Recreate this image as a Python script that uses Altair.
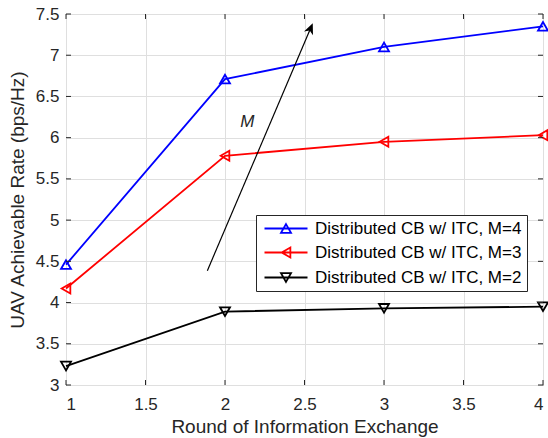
import altair as alt
import pandas as pd

# ---------------- data ----------------
rounds = [1, 2, 3, 4]
series_names = [
    "Distributed CB w/ ITC, M=4",
    "Distributed CB w/ ITC, M=3",
    "Distributed CB w/ ITC, M=2",
]
rate_m4 = [4.46, 6.71, 7.10, 7.35]
rate_m3 = [4.17, 5.78, 5.95, 6.03]
rate_m2 = [3.23, 3.89, 3.93, 3.95]
series_colors = ["#0000ff", "#ff0000", "#000000"]
marker_shapes = ["triangle-up", "triangle-left", "triangle-down"]

x_ticks = [1, 1.5, 2, 2.5, 3, 3.5, 4]
y_ticks = [3, 3.5, 4, 4.5, 5, 5.5, 6, 6.5, 7, 7.5]

# annotation arrow (data units) and its label
arrow_x = [1.889, 2.537]
arrow_y = [4.387, 7.32]
label_x = [2.14]
label_y = [6.195]
label_text = ["M"]

# legend symbols: line with marker (custom paths)
legend_paths = [
    "M-1,0L7.6,0M3.3,-0.87L4.3,0.87L2.3,0.87Z",
    "M-1,0L7.6,0M2.43,0L4.17,-1L4.17,1Z",
    "M-1,0L7.6,0M3.3,0.87L4.3,-0.87L2.3,-0.87Z",
]

W, H = 477, 371
FONT = "Liberation Sans"
TXT = "#262626"

df = pd.DataFrame({
    "round": rounds * 3,
    "rate": rate_m4 + rate_m3 + rate_m2,
    "series": [n for n in series_names for _ in rounds],
})
xt = pd.DataFrame({"round": x_ticks})
yt = pd.DataFrame({"rate": y_ticks})
arrow_df = pd.DataFrame({"round": arrow_x, "rate": arrow_y, "o": [0, 1]})
head_df = pd.DataFrame({"round": arrow_x[-1:], "rate": arrow_y[-1:]})
lab_df = pd.DataFrame({"round": label_x, "rate": label_y, "text": label_text})

xscale = alt.Scale(domain=[1, 4], nice=False, zero=False)
yscale = alt.Scale(domain=[3, 7.5], nice=False, zero=False)
cscale = alt.Scale(domain=series_names, range=series_colors)

x_axis = alt.Axis(values=x_ticks, format=".1~f", title="Round of Information Exchange",
                  labelPadding=11, titlePadding=5)
y_axis = alt.Axis(values=y_ticks, format=".1~f", title="UAV Achievable Rate (bps/Hz)",
                  labelPadding=7, titlePadding=8)


def X():
    return alt.X("round:Q", scale=xscale, axis=x_axis)


def Y():
    return alt.Y("rate:Q", scale=yscale, axis=y_axis)


# inward ticks on all four sides
tick_style = dict(color=TXT, strokeWidth=1)
t_bottom = alt.Chart(xt).mark_rule(**tick_style).encode(x=X(), y=alt.value(H), y2=alt.value(H - 5))
t_top = alt.Chart(xt).mark_rule(**tick_style).encode(x=X(), y=alt.value(0), y2=alt.value(5))
t_left = alt.Chart(yt).mark_rule(**tick_style).encode(y=Y(), x=alt.value(0), x2=alt.value(5))
t_right = alt.Chart(yt).mark_rule(**tick_style).encode(y=Y(), x=alt.value(W), x2=alt.value(W - 5))

lines = []
markers = []
for name, col, shp in zip(series_names, series_colors, marker_shapes):
    base = alt.Chart(df).transform_filter(alt.datum.series == name)
    lines.append(base.mark_line(strokeWidth=1.8, color=col).encode(x=X(), y=Y()))
    markers.append(
        base.mark_point(shape=shp, size=100, filled=False, strokeWidth=1.8, opacity=1, color=col)
        .encode(x=X(), y=Y())
    )

arrow_line = alt.Chart(arrow_df).mark_line(color="black", strokeWidth=1.2).encode(
    x=X(), y=Y(), order="o:Q",
)
arrow_head = alt.Chart(head_df).mark_point(
    shape="M0,-1L0.8,0.8L0,0.3L-0.8,0.8Z", size=149, filled=True, color="black",
    opacity=1, angle=23, strokeWidth=0.5,
).encode(x=X(), y=Y())
m_label = alt.Chart(lab_df).mark_text(font=FONT, fontSize=17, fontStyle="italic", color=TXT).encode(
    x=X(), y=Y(), text="text:N",
)

leg = alt.Legend(
    title=None, orient="none", legendX=190, legendY=201,
    padding=5, strokeColor=TXT, fillColor="white",
    labelFont=FONT, labelFontSize=17, labelColor="black",
    symbolSize=100, symbolStrokeWidth=1.8, symbolOpacity=1,
    labelOffset=37, rowPadding=6, cornerRadius=0, labelLimit=400,
)
legend_layer = alt.Chart(df).mark_point(clip=True, filled=False, strokeWidth=1.8, opacity=1).encode(
    x=alt.value(-60), y=alt.value(-60),
    color=alt.Color("series:N", scale=cscale, legend=leg),
    shape=alt.Shape("series:N", scale=alt.Scale(domain=series_names, range=legend_paths), legend=leg),
)

chart = alt.layer(
    *lines, *markers, arrow_line, arrow_head, m_label,
    t_bottom, t_top, t_left, t_right, legend_layer,
).properties(
    width=W, height=H,
    padding={"left": 66, "top": 14, "right": 5, "bottom": 53},
    autosize=alt.AutoSizeParams(type="none"),
).configure_view(
    stroke=TXT, strokeWidth=1,
).configure_axis(
    labelFont=FONT, labelFontSize=17, labelColor=TXT,
    titleFont=FONT, titleFontSize=19, titleFontWeight="normal", titleColor=TXT,
    ticks=False, domain=False, gridColor="#dfdfdf", gridWidth=1,
)

chart.save("out.html", embed_options={"renderer": "svg", "actions": False})
